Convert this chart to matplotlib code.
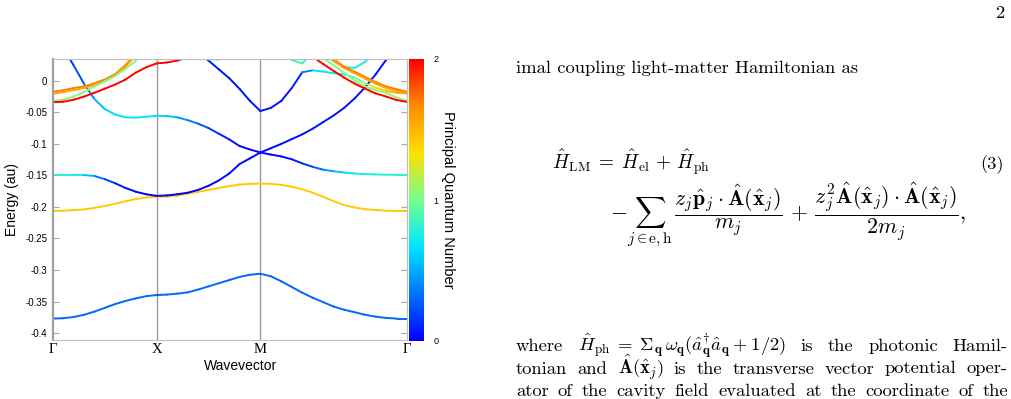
import numpy as np
import matplotlib
matplotlib.use('Agg')
import matplotlib.pyplot as plt
from matplotlib.collections import LineCollection
from matplotlib.colors import LinearSegmentedColormap, Normalize
from matplotlib.cm import ScalarMappable

plt.rcParams['mathtext.fontset'] = 'cm'
plt.rcParams['axes.unicode_minus'] = False

nan = np.nan

# path G-X-M-G, segment lengths 1, 1, sqrt(2)
kpath_labels = ['Γ', 'X', 'M', 'Γ']
kpath_nodes = [0.0, 1.0, 2.0, 2.0 + np.sqrt(2)]
k = np.concatenate([np.linspace(0, 1, 11),
                    np.linspace(1, 2, 11)[1:],
                    np.linspace(2, 2 + np.sqrt(2), 15)[1:]])

# energies (au) on the k grid: 11 pts G-X, 10 pts X-M, 14 pts M-G
band_low = [-0.377, -0.3765, -0.3745, -0.371, -0.366, -0.360, -0.354, -0.349, -0.345, -0.3415, -0.3397,
            -0.339, -0.3375, -0.3355, -0.331, -0.326, -0.321, -0.316, -0.311, -0.3075, -0.306,
            -0.310, -0.318, -0.327, -0.336, -0.344, -0.351, -0.358, -0.363, -0.367, -0.371, -0.374, -0.376, -0.377, -0.377]
band_yellow = [-0.2063, -0.2060, -0.2050, -0.2040, -0.2015, -0.1985, -0.195, -0.191, -0.1875, -0.185, -0.184,
               -0.1835, -0.182, -0.179, -0.176, -0.173, -0.170, -0.167, -0.1645, -0.1635, -0.163,
               -0.1635, -0.165, -0.168, -0.172, -0.1775, -0.184, -0.191, -0.197, -0.201, -0.2035, -0.205, -0.206, -0.2063, -0.2063]
band_a = [0.075, 0.052, 0.024, -0.005, -0.029, -0.045, -0.0535, -0.058, -0.0585, -0.057, -0.0555,
          -0.056, -0.058, -0.0625, -0.068, -0.075, -0.084, -0.093, -0.1035, -0.109, -0.1137,
          -0.117, -0.120, -0.1245, -0.131, -0.1365, -0.141, -0.1435, -0.1455, -0.147, -0.148, -0.1485, -0.149, -0.1492, -0.1492]
band_b = [-0.149, -0.149, -0.149, -0.1495, -0.151, -0.156, -0.1625, -0.170, -0.176, -0.180, -0.1825,
          -0.1818, -0.180, -0.1775, -0.173, -0.1665, -0.158, -0.147, -0.132, -0.123, -0.1137,
          -0.107, -0.100, -0.0925, -0.085, -0.076, -0.0655, -0.055, -0.043, -0.028, -0.0105, 0.010, 0.033, 0.055, 0.080]
band_d = [nan] * 11 + \
         [nan, nan, nan, 0.046, 0.032, 0.018, 0.004, -0.013, -0.032, -0.048,
          -0.043, -0.032, -0.0115, 0.0135, 0.0165, 0.0145, 0.012, 0.010, 0.005, -0.004, -0.011, -0.016, -0.019, -0.020]
band_red = [-0.034, -0.0332, -0.030, -0.025, -0.019, -0.0125, -0.006, 0.002, 0.013, 0.0215, 0.0275,
            0.029, 0.032, 0.037, 0.046, nan, nan, nan, nan, nan, nan,
            nan, nan, nan, 0.050, 0.038, 0.0265, 0.0155, 0.005, -0.0045, -0.0125, -0.020, -0.025, -0.0305, -0.0335]
band_green = [-0.032, -0.030, -0.025, -0.0175, -0.009, -0.001, 0.008, 0.019, 0.032, 0.048, nan] + [nan] * 10 + \
             [nan, nan, nan, nan, 0.050, 0.036, 0.0245, 0.0125, 0.000, -0.009, -0.015, -0.0195, -0.0265, -0.032]
band_orange = [-0.0175, -0.015, -0.0115, -0.009, -0.004, 0.002, 0.0105, 0.025, 0.044, nan, nan] + [nan] * 10 + \
              [nan, nan, nan, nan, nan, 0.048, 0.034, 0.0225, 0.0143, 0.006, -0.002, -0.009, -0.0135, -0.0175]
band_orange2 = [-0.0205, -0.018, -0.0145, -0.0115, -0.0065, -0.0005, 0.008, 0.0225, 0.041, nan, nan] + [nan] * 10 + \
               [nan, nan, nan, nan, nan, 0.046, 0.0315, 0.020, 0.012, 0.0035, -0.0045, -0.0115, -0.016, -0.0205]
band_cyan_u = [nan] * 21 + [nan, nan, nan, nan, nan, 0.045, 0.031, 0.0215, 0.0205, 0.030, 0.045, nan, nan, nan]
band_cyan_v = [nan] * 21 + [nan, 0.045, 0.033, 0.0275, 0.045, nan, nan, nan, nan, nan, nan, nan, nan, nan]
band_arc = [nan] * 11 + [nan, nan, nan, 0.045, 0.034, 0.0335, 0.042, nan, nan, nan] + [nan] * 14

# principal quantum number (colour) along each band
pqn_low = 0.3
pqn_yellow = 1.42
pqn_a = [0.1, 0.1, 0.15, 0.3, 0.45, 0.6, 0.65, 0.67, 0.67, 0.67, 0.65,
         0.6, 0.5, 0.4, 0.3, 0.2, 0.1, 0.05, 0.03, 0.02, 0.02,
         0.02, 0.03, 0.05, 0.1, 0.2, 0.35, 0.5, 0.6, 0.7, 0.75, 0.78, 0.8, 0.8, 0.8]
pqn_b = [0.8, 0.8, 0.75, 0.65, 0.45, 0.25, 0.1, 0.05, 0.02, 0.0, 0.0,
         0.0, 0.0, 0.0, 0.0, 0.0, 0.02, 0.02, 0.02, 0.02, 0.02,
         0.03, 0.03, 0.04, 0.04, 0.05, 0.05, 0.05, 0.05, 0.05, 0.05, 0.05, 0.05, 0.05, 0.05]
pqn_d = [0.05] * 21 + [0.05, 0.05, 0.05, 0.15, 0.6, 0.7, 0.7, 0.75, 0.9, 1.1, 1.3, 1.45, 1.55, 1.6]
pqn_red = 2.0
pqn_green = 1.05
pqn_orange = 1.7
pqn_orange2 = 1.58
pqn_cyan_u = 0.75
pqn_cyan_v = 0.85
pqn_arc = 0.9

bands = [(band_low, pqn_low), (band_yellow, pqn_yellow), (band_a, pqn_a), (band_b, pqn_b),
         (band_d, pqn_d), (band_cyan_u, pqn_cyan_u), (band_cyan_v, pqn_cyan_v), (band_arc, pqn_arc),
         (band_orange, pqn_orange), (band_orange2, pqn_orange2), (band_green, pqn_green), (band_red, pqn_red)]

cmap = LinearSegmentedColormap.from_list('pqn', [
    (0.0, (0.0, 0.0, 1.0)), (1 / 3, (0.0, 0.9, 1.0)), (0.5, (0.45, 1.0, 0.55)),
    (2 / 3, (1.0, 0.88, 0.0)), (5 / 6, (1.0, 0.55, 0.0)), (1.0, (1.0, 0.0, 0.0))])
norm = Normalize(0, 2)


def band_segments(y, c):
    y = np.asarray(y, dtype=float)
    c = np.broadcast_to(np.asarray(c, dtype=float), y.shape)
    segs, cols = [], []
    for i in range(len(k) - 1):
        if np.isfinite(y[i]) and np.isfinite(y[i + 1]):
            segs.append([(k[i], y[i]), (k[i + 1], y[i + 1])])
            cols.append(0.5 * (c[i] + c[i + 1]))
    return segs, np.array(cols)


W, H = 1012, 399
fig = plt.figure(figsize=(W / 100, H / 100), dpi=100)

ax = fig.add_axes([53 / W, 1 - 340 / H, (407 - 53) / W, (340 - 59) / H])
for y, c in bands:
    segs, cols = band_segments(y, c)
    lc = LineCollection(segs, cmap=cmap, norm=norm, linewidths=1.4, capstyle='round')
    lc.set_array(cols)
    ax.add_collection(lc)

for xv in kpath_nodes[1:-1]:
    ax.axvline(xv, color='#999999', lw=1.0, zorder=0)

ax.set_xlim(kpath_nodes[0], kpath_nodes[-1])
ax.set_ylim(-0.411, 0.0345)
ax.set_xticks(kpath_nodes)
ax.set_xticklabels(kpath_labels, family='Liberation Serif', fontsize=10.5)
ax.tick_params(axis='x', length=0, pad=2)
ax.set_yticks([-0.4, -0.35, -0.3, -0.25, -0.2, -0.15, -0.1, -0.05, 0])
ax.set_yticklabels(['-0.4', '-0.35', '-0.3', '-0.25', '-0.2', '-0.15', '-0.1', '-0.05', '0'],
                   family='Liberation Sans', fontsize=7)
ax.tick_params(axis='y', direction='in', length=4, color='#aaaaaa', right=True, pad=4)
for s in ['top', 'right', 'bottom']:
    ax.spines[s].set_color('#c0c0c0')
ax.spines['left'].set_color('#a0a0a0')
ax.spines['left'].set_linewidth(1.6)

fig.text(12 / W, 1 - 200 / H, 'Energy (au)', rotation=90, ha='center', va='center',
         family='Liberation Sans', fontsize=10)
fig.text(241 / W, 1 - 366 / H, 'Wavevector', ha='center', va='center',
         family='Liberation Sans', fontsize=10)

cax = fig.add_axes([409 / W, 1 - 341 / H, 15 / W, 282 / H])
sm = ScalarMappable(norm=norm, cmap=cmap)
cb = fig.colorbar(sm, cax=cax, ticks=[0, 1, 2])
cb.outline.set_visible(False)
cb.ax.set_yticklabels(['0', '1', '2'], family='Liberation Sans', fontsize=6.5)
cb.ax.tick_params(length=0, pad=7)
cb.set_label('Principal Quantum Number', rotation=270, family='Liberation Sans',
             fontsize=10.5, labelpad=12)

# page text on the right
FS = 13.4
tx = dict(family='cmr10', fontsize=FS, va='baseline')
renderer = fig.canvas.get_renderer()


def justified(chunks, x0, x1, ybase):
    texts = [fig.text(0, 1 - ybase / H, c, **tx) for c in chunks]
    widths = [t.get_window_extent(renderer).width for t in texts]
    gap = (x1 - x0 - sum(widths)) / (len(texts) - 1)
    x = x0
    for t, w in zip(texts, widths):
        t.set_x(x / W)
        x += w + gap


fig.text(1000 / W, 1 - 18 / H, '2', ha='center', **tx)
fig.text(516 / W, 1 - 73.5 / H, 'imal coupling light-matter Hamiltonian as', **tx)
fig.text(552 / W, 1 - 169 / H,
         r'$\hat{H}_{\mathrm{LM}}\;=\;\hat{H}_{\mathrm{el}}\,+\,\hat{H}_{\mathrm{ph}}$',
         family='cmr10', fontsize=13.8, va='baseline')
fig.text(1004 / W, 1 - 169 / H, '(3)', ha='right', **tx)
fig.text(610 / W, 1 - 220 / H,
         r'$-\sum_{j\in\mathrm{e,h}}\,\dfrac{z_j\hat{\mathbf{p}}_j\cdot\hat{\mathbf{A}}(\hat{\mathbf{x}}_j)}{m_j}'
         r'\,+\,\dfrac{z_j^2\hat{\mathbf{A}}(\hat{\mathbf{x}}_j)\cdot\hat{\mathbf{A}}(\hat{\mathbf{x}}_j)}{2m_j},$',
         family='cmr10', fontsize=15.8, va='baseline')
justified(['where',
           r'$\hat{H}_{\mathrm{ph}}\;=\;\Sigma_{\mathbf{q}}\,\omega_{\mathbf{q}}(\hat{a}^{\dagger}_{\mathbf{q}}\hat{a}_{\mathbf{q}}\:+\:1/2)$',
           'is', 'the', 'photonic', 'Hamil-'], 516, 1008, 351)
justified(['tonian', 'and', r'$\hat{\mathbf{A}}(\hat{\mathbf{x}}_j)$', 'is', 'the', 'transverse',
           'vector', 'potential', 'oper-'], 516, 1008, 373.5)
justified(['ator', 'of', 'the', 'cavity', 'field', 'evaluated', 'at', 'the', 'coordinate', 'of', 'the'],
          516, 1008, 396)

fig.savefig('out.png', dpi=100)
